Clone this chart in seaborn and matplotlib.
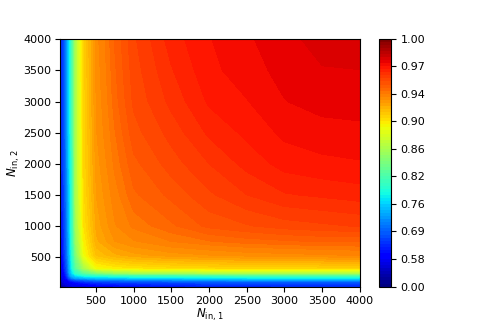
import numpy as np
import matplotlib
matplotlib.use("Agg")
import matplotlib.pyplot as plt
from matplotlib.colors import BoundaryNorm
import seaborn as sns

n_in_1 = [30, 60, 90, 150, 180, 230, 340, 510, 750, 1000, 1500, 2000, 2500, 3000, 3500, 4000]
n_in_2 = [25, 60, 100, 160, 195, 240, 325, 530, 750, 1000, 1500, 2000, 2500, 3000, 3500, 4012]
accuracy = [
 [.10,.20,.30,.45,.50,.54,.57,.59,.60,.61,.62,.63,.63,.64,.64,.64],
 [.20,.30,.42,.50,.54,.57,.59,.61,.62,.63,.64,.65,.65,.65,.65,.65],
 [.30,.42,.52,.58,.60,.62,.64,.66,.67,.67,.68,.68,.69,.69,.69,.69],
 [.45,.50,.58,.68,.71,.73,.74,.75,.75,.76,.76,.77,.77,.77,.77,.77],
 [.50,.54,.60,.71,.74,.76,.78,.79,.795,.80,.80,.80,.81,.81,.81,.81],
 [.54,.57,.62,.73,.76,.80,.825,.84,.85,.855,.855,.86,.86,.86,.86,.86],
 [.57,.59,.64,.74,.78,.825,.86,.892,.897,.90,.903,.905,.906,.906,.907,.907],
 [.59,.61,.66,.75,.79,.84,.89,.914,.921,.925,.929,.931,.933,.934,.935,.936],
 [.60,.62,.67,.75,.80,.85,.895,.921,.931,.935,.940,.943,.945,.946,.947,.947],
 [.61,.63,.67,.76,.80,.855,.90,.924,.935,.941,.946,.951,.953,.955,.956,.957],
 [.62,.64,.68,.76,.80,.86,.903,.927,.938,.946,.951,.956,.960,.963,.964,.965],
 [.63,.65,.68,.77,.80,.86,.905,.929,.941,.949,.955,.960,.9645,.9680,.9692,.9697],
 [.63,.65,.69,.77,.81,.86,.905,.931,.943,.952,.958,.964,.9675,.9708,.9718,.9722],
 [.64,.65,.69,.77,.81,.86,.906,.932,.945,.954,.961,.9672,.9698,.9732,.9748,.9752],
 [.64,.65,.69,.77,.81,.86,.907,.933,.946,.955,.963,.9690,.9718,.9745,.9764,.9766],
 [.64,.65,.69,.77,.81,.86,.907,.934,.947,.956,.965,.9698,.9728,.9755,.9782,.9795],
]
cbar_ticks = [0.00, 0.58, 0.69, 0.76, 0.82, 0.86, 0.90, 0.94, 0.97, 1.00]
x_ticks = [500, 1000, 1500, 2000, 2500, 3000, 3500, 4000]
y_ticks = [500, 1000, 1500, 2000, 2500, 3000, 3500, 4000]

sns.set_theme(style="ticks", rc={"axes.grid": False})
plt.rcParams["font.family"] = ["DejaVu Sans"]

steps_per_segment = 9
pos = np.linspace(0, len(cbar_ticks) - 1, (len(cbar_ticks) - 1) * steps_per_segment + 1)
levels = np.interp(pos, np.arange(len(cbar_ticks)), cbar_ticks)
cmap = plt.get_cmap("jet")
norm = BoundaryNorm(levels, cmap.N)

fig, ax = plt.subplots(figsize=(4.83, 3.22), dpi=100)
cs = ax.contourf(n_in_1, n_in_2, np.array(accuracy), levels=levels, cmap=cmap, norm=norm)
ax.set_xticks(x_ticks)
ax.set_yticks(y_ticks)
ax.set_xlabel(r"$N_{\mathrm{in},\,1}$", fontsize=8.5, labelpad=1, color="black")
ax.set_ylabel(r"$N_{\mathrm{in},\,2}$", fontsize=8.5, labelpad=1, color="black")
ax.tick_params(labelsize=8, length=3.5, width=0.8, color="black", labelcolor="black", pad=3)
for s in ax.spines.values():
    s.set_visible(True)
    s.set_color("black")
    s.set_linewidth(0.8)
cbar = fig.colorbar(cs, ax=ax, ticks=cbar_ticks)
cbar.ax.set_yticklabels([f"{t:.2f}" for t in cbar_ticks])
cbar.ax.tick_params(labelsize=8, length=3.5, width=0.8, color="black", labelcolor="black")
cbar.ax.minorticks_off()
cbar.outline.set_edgecolor("black")
cbar.outline.set_linewidth(0.8)
fig.savefig("out.png", dpi=100)
